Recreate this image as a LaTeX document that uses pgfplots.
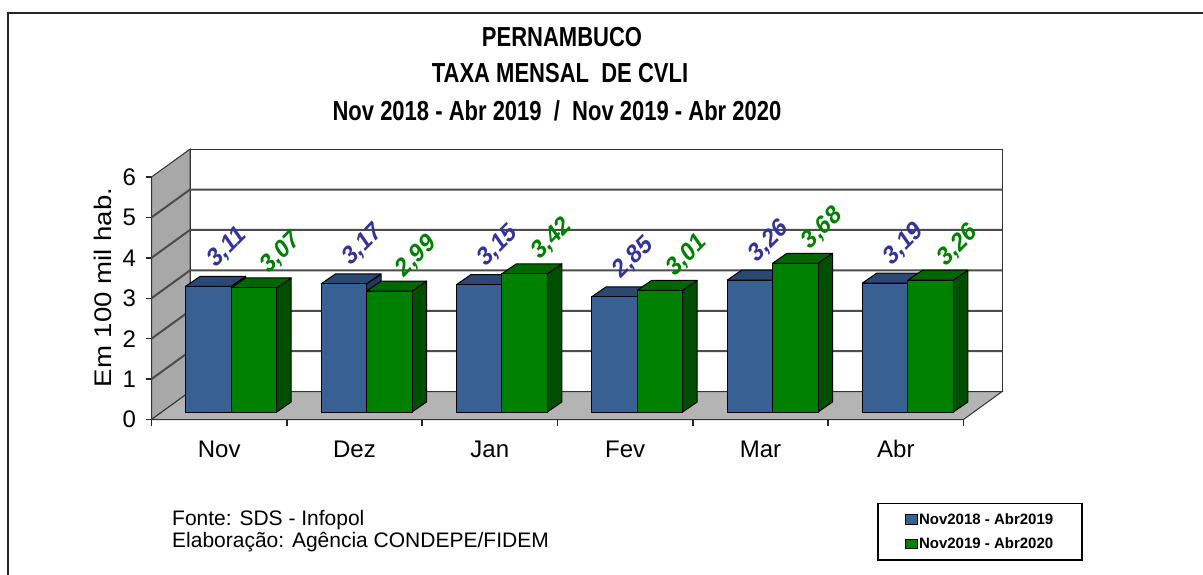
\documentclass[border=0pt]{standalone}
\usepackage{pgfplots}
\pgfplotsset{compat=1.18}
\usepackage{pgfplotstable}
\usepackage{fontspec}
\setmainfont{Liberation Sans}
\usepackage{graphicx}

\definecolor{blueF}{HTML}{386092}
\definecolor{blueT}{HTML}{2B4872}
\definecolor{blueS}{HTML}{22395C}
\definecolor{greenF}{HTML}{008000}
\definecolor{greenT}{HTML}{006600}
\definecolor{greenS}{HTML}{004F00}
\definecolor{wallL}{HTML}{A8A8A8}
\definecolor{floorC}{HTML}{B4B4B4}
\definecolor{lblBlue}{HTML}{333399}
\definecolor{lblGreen}{HTML}{008000}

\pgfplotstableread{
x v1 v2
0 3.11 3.07
1 3.17 2.99
2 3.15 3.42
3 2.85 3.01
4 3.26 3.68
5 3.19 3.26
}\datatable

\pgfplotstableread{
a b c
0 1 0
14.5 1 10
60 1 10
45.5 1 0
0 1 0
}\toptmpl
\pgfplotstableread{
a b c
45.5 0 0
60 0 10
60 1 10
45.5 1 0
45.5 0 0
}\sidetmpl

\begin{document}
\begin{tikzpicture}
% ---------- walls, floor, axes (front plane) ----------
\begin{axis}[
  at={(151.5pt,154.5pt)}, anchor=south west,
  scale only axis, width=812pt, height=242.5pt,
  xmin=-0.5, xmax=5.5, ymin=0, ymax=6,
  clip=false,
  axis x line*=bottom, axis y line*=left,
  axis line style={-, line width=1.5pt, black!85},
  x axis line style={-}, y axis line style={-},
  xtick={0,...,5}, xticklabels={Nov,Dez,Jan,Fev,Mar,Abr},
  xtick style={draw=none},
  ytick={0,...,6},
  ytick style={line width=1.5pt, black!85},
  tick align=outside, major tick length=6pt,
  /pgf/number format/assume math mode=true,
  ticklabel style={font=\fontsize{24}{28}\selectfont},
  xticklabel style={anchor=base, yshift=-32pt},
  yticklabel style={xshift=-6pt},
]
\addplot[fill=wallL, draw=black!80, line width=1pt] coordinates {(-0.5,0) (-0.2155,0.69) (-0.2155,6.69) (-0.5,6) (-0.5,0)};
\addplot[fill=white, draw=black!80, line width=1pt] coordinates {(-0.2155,0.69) (5.7845,0.69) (5.7845,6.69) (-0.2155,6.69) (-0.2155,0.69)};
\addplot[fill=floorC, draw=black!80, line width=1pt] coordinates {(-0.5,0) (5.5,0) (5.7845,0.69) (-0.2155,0.69) (-0.5,0)};
\pgfplotsinvokeforeach{1,...,5}{
  \addplot[black!70, line width=2pt] coordinates {(-0.5,#1) (-0.2155,#1.69) (5.7845,#1.69)};
}
\pgfplotsinvokeforeach{-0.5,0.5,1.5,2.5,3.5,4.5,5.5}{
  \addplot[black!85, line width=1.5pt] coordinates {(#1,0) (#1,-0.15)};
}
\end{axis}

% ---------- bars ----------
\begin{axis}[
  at={(163.5pt,162pt)}, anchor=south west,
  scale only axis, width=812pt, height=242.5pt,
  xmin=-0.5, xmax=5.5, ymin=0, ymax=6,
  clip=false, hide axis,
  legend cell align=left,
  legend style={at={(0.8787,-0.6144)}, anchor=south west, draw=black, line width=1.5pt,
    font=\bfseries\fontsize{15}{18}\selectfont, inner xsep=27.5pt, inner ysep=8pt, row sep=8pt,
    nodes={inner xsep=1pt}},
]
% blue extrusions
\pgfplotsinvokeforeach{0,...,5}{
  \pgfplotstablegetelem{#1}{v1}\of\datatable
  \let\va\pgfplotsretval
  \addplot[fill=blueS, draw=black, line width=1pt, line join=round, forget plot]
    table[x expr={#1-0.33621+\thisrow{a}/135.333}, y expr={\thisrow{b}*\va+\thisrow{c}/40.4167}] {\sidetmpl};
  \addplot[fill=blueT, draw=black, line width=1pt, line join=round, forget plot]
    table[x expr={#1-0.33621+\thisrow{a}/135.333}, y expr={\thisrow{b}*\va+\thisrow{c}/40.4167}] {\toptmpl};
}
\addplot[ybar, bar width=45.5pt, bar shift=-22.75pt, fill=blueF, draw=black, line width=1pt,
  legend image code/.code={\draw[fill=blueF, draw=black, line width=0.8pt] (0pt,-4.5pt) rectangle (12pt,5pt);}]
  table[x=x,y=v1]{\datatable};
\addlegendentry{Nov2018 - Abr2019}
% green extrusions
\pgfplotsinvokeforeach{0,...,5}{
  \pgfplotstablegetelem{#1}{v2}\of\datatable
  \let\vb\pgfplotsretval
  \addplot[fill=greenS, draw=black, line width=1pt, line join=round, forget plot]
    table[x expr={#1+\thisrow{a}/135.333}, y expr={\thisrow{b}*\vb+\thisrow{c}/40.4167}] {\sidetmpl};
  \addplot[fill=greenT, draw=black, line width=1pt, line join=round, forget plot]
    table[x expr={#1+\thisrow{a}/135.333}, y expr={\thisrow{b}*\vb+\thisrow{c}/40.4167}] {\toptmpl};
}
\addplot[ybar, bar width=45.5pt, bar shift=22.75pt, fill=greenF, draw=black, line width=1pt,
  legend image code/.code={\draw[fill=greenF, draw=black, line width=0.8pt] (0pt,-4.5pt) rectangle (12pt,5pt);}]
  table[x=x,y=v2]{\datatable};
\addlegendentry{Nov2019 - Abr2020}
% labels
\addplot[draw=none, forget plot, point meta=y,
  nodes near coords={\scalebox{1}[1.2]{\rotatebox{40}{\pgfmathprintnumber[fixed,fixed zerofill,precision=2,use comma,assume math mode=true]{\pgfplotspointmeta}}}},
  every node near coord/.append style={anchor=center, xshift=-3.75pt, yshift=39pt,
    font=\bfseries\fontsize{22}{26}\selectfont, text=lblBlue}]
  table[x=x,y=v1]{\datatable};
\addplot[draw=none, forget plot, point meta=y,
  nodes near coords={\scalebox{1}[1.2]{\rotatebox{40}{\pgfmathprintnumber[fixed,fixed zerofill,precision=2,use comma,assume math mode=true]{\pgfplotspointmeta}}}},
  every node near coord/.append style={anchor=center, xshift=49.75pt, yshift=35pt,
    font=\bfseries\fontsize{22}{26}\selectfont, text=lblGreen}]
  table[x=x,y=v2]{\datatable};
\end{axis}

% ---------- texts ----------
\node[anchor=base, font=\bfseries\fontsize{22}{26}\selectfont] at (562pt,527pt) {\scalebox{1}[1.25]{PERNAMBUCO}};
\node[anchor=base, font=\bfseries\fontsize{22}{26}\selectfont] at (560pt,491pt) {\scalebox{1}[1.25]{TAXA MENSAL~ DE CVLI}};
\node[anchor=base, font=\bfseries\fontsize{22}{26}\selectfont] at (557pt,453pt) {\scalebox{1}[1.25]{Nov 2018 - Abr 2019~~/~~Nov 2019 - Abr 2020}};
\node[rotate=90, font=\fontsize{24}{28}\selectfont] at (103pt,286.5pt) {\scalebox{1.15}[1]{Em 100 mil hab.}};
\node[anchor=base west, font=\fontsize{21}{24}\selectfont, inner sep=0pt] at (172pt,49pt) {Fonte: SDS - Infopol};
\node[anchor=base west, font=\fontsize{21}{24}\selectfont, inner sep=0pt] at (172pt,27pt) {Elaboração: Agência CONDEPE/FIDEM};

\draw[line width=2pt, black!85] (8pt,-10pt) -- (8pt,561pt) -- (1215pt,561pt);
\pgfresetboundingbox
\useasboundingbox (0pt,0pt) rectangle (1203pt,574pt);
\end{tikzpicture}
\end{document}
